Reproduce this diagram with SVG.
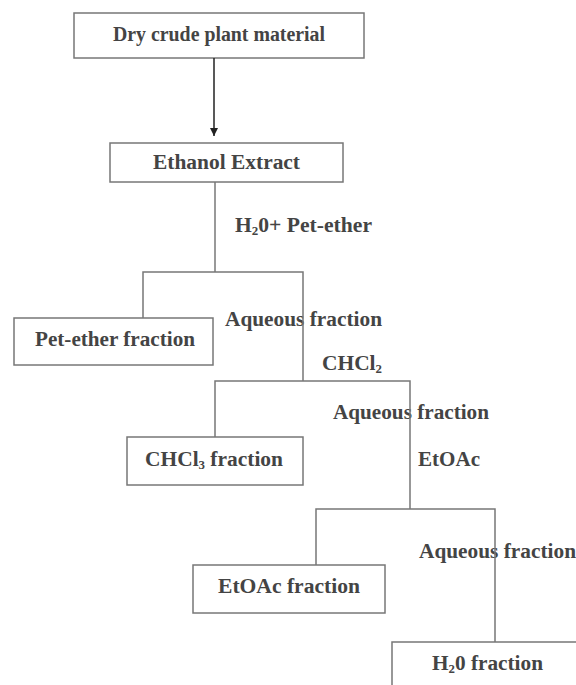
<svg xmlns="http://www.w3.org/2000/svg" width="576" height="685" viewBox="0 0 576 685">
<style>
.box{fill:#fff;stroke:#777;stroke-width:1.5}
.t{font-family:"Liberation Serif","Times New Roman",serif;font-weight:bold;font-size:20px;fill:#444}
.c{fill:none;stroke:#777;stroke-width:1.5}
.sub{font-size:12px}
</style>
<defs>
<marker id="ah" viewBox="0 0 10 10" refX="10" refY="5" markerWidth="8" markerHeight="8" markerUnits="userSpaceOnUse" orient="auto">
<path d="M0,0 L10,5 L0,10 Z" fill="#222"/>
</marker>
</defs>
<rect width="576" height="685" fill="#fff"/>
<g id="n1"><rect class="box" x="74" y="13" width="290" height="45"/><text class="t" x="113" y="41" textLength="212" lengthAdjust="spacingAndGlyphs">Dry crude plant material</text></g>
<g id="n2"><rect class="box" x="110" y="143" width="233" height="39"/><text class="t" x="153" y="169" textLength="147" lengthAdjust="spacingAndGlyphs">Ethanol Extract</text></g>
<g id="n3"><rect class="box" x="14" y="318" width="199" height="47"/><text class="t" x="35" y="346" textLength="160" lengthAdjust="spacingAndGlyphs">Pet-ether fraction</text></g>
<g id="n4"><rect class="box" x="127" y="437" width="176" height="48"/><text class="t" x="145" y="466" textLength="138" lengthAdjust="spacingAndGlyphs">CHCl<tspan class="sub" dy="3">3</tspan><tspan dy="-3"> fraction</tspan></text></g>
<g id="n5"><rect class="box" x="193" y="565" width="192" height="48"/><text class="t" x="218" y="593" textLength="142" lengthAdjust="spacingAndGlyphs">EtOAc fraction</text></g>
<g id="n6"><rect class="box" x="392" y="642" width="190" height="50"/><text class="t" x="432" y="670" textLength="111" lengthAdjust="spacingAndGlyphs">H<tspan class="sub" dy="3">2</tspan><tspan dy="-3">0 fraction</tspan></text></g>
<g id="labels">
<text class="t" x="235" y="232" textLength="137" lengthAdjust="spacingAndGlyphs">H<tspan class="sub" dy="3">2</tspan><tspan dy="-3">0+ Pet-ether</tspan></text>
<text class="t" x="225" y="326" textLength="157" lengthAdjust="spacingAndGlyphs">Aqueous fraction</text>
<text class="t" x="322" y="370" textLength="60" lengthAdjust="spacingAndGlyphs">CHCl<tspan class="sub" dy="3">2</tspan></text>
<text class="t" x="333" y="419" textLength="156" lengthAdjust="spacingAndGlyphs">Aqueous fraction</text>
<text class="t" x="418" y="466" textLength="62" lengthAdjust="spacingAndGlyphs">EtOAc</text>
<text class="t" x="419" y="558" textLength="157" lengthAdjust="spacingAndGlyphs">Aqueous fraction</text>
</g>
<g id="connectors">
<line x1="214" y1="58" x2="214" y2="136" stroke="#222" stroke-width="1.5" marker-end="url(#ah)"/>
<polyline class="c" points="215,182 215,272"/>
<polyline class="c" points="143,318 143,272 303,272 303,381"/>
<polyline class="c" points="215,437 215,381 410,381 410,509"/>
<polyline class="c" points="316,565 316,509 495,509 495,642"/>
</g>
</svg>
